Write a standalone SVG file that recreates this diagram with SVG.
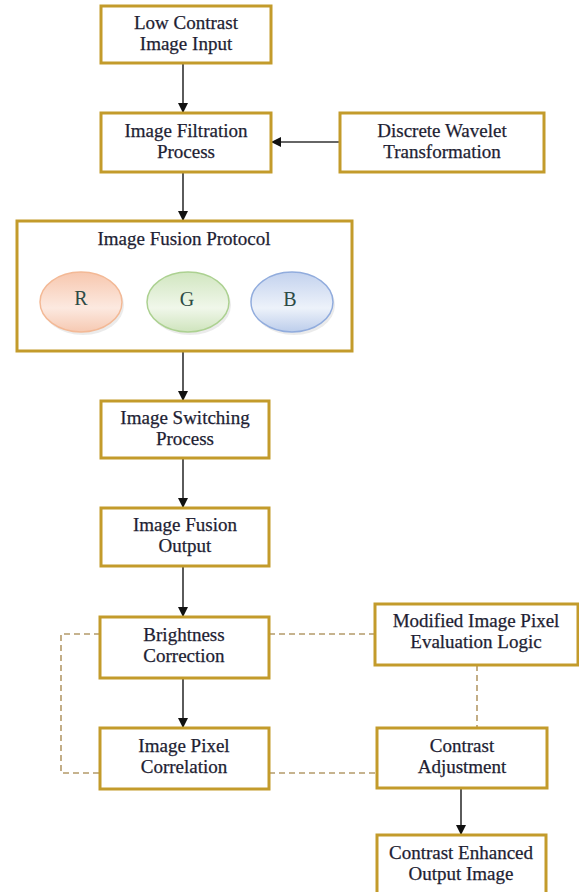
<svg xmlns="http://www.w3.org/2000/svg" width="579" height="892" viewBox="0 0 579 892">
<style>
.box{fill:#fff;stroke:#C39B2B;stroke-width:3}
.t{font-family:"Liberation Serif",serif;font-size:19px;fill:#1e1e33;text-anchor:middle;stroke:#1e1e33;stroke-width:0.25}
.c{stroke:#333;stroke-width:1.6;fill:none}
.d{stroke:#B49A6A;stroke-width:1.6;fill:none;stroke-dasharray:6,4}
.l{font-family:"Liberation Serif",serif;font-size:20px;fill:#2d4b45;text-anchor:middle}
</style>
<defs>
<marker id="ah" markerWidth="10" markerHeight="10" refX="9" refY="5" orient="auto" markerUnits="userSpaceOnUse"><path d="M0,0 L10,5 L0,10 z" fill="#111"/></marker>
<linearGradient id="gr" x1="0" y1="0" x2="0" y2="1"><stop offset="0" stop-color="#F7C7AE"/><stop offset="0.6" stop-color="#FCE9E0"/><stop offset="1" stop-color="#F6C9B2"/></linearGradient>
<linearGradient id="gg" x1="0" y1="0" x2="0" y2="1"><stop offset="0" stop-color="#D1E6C0"/><stop offset="0.6" stop-color="#F0F7EA"/><stop offset="1" stop-color="#CFE4BD"/></linearGradient>
<linearGradient id="gb" x1="0" y1="0" x2="0" y2="1"><stop offset="0" stop-color="#C3D2EE"/><stop offset="0.6" stop-color="#EDF2FA"/><stop offset="1" stop-color="#BCCDEB"/></linearGradient>
</defs>
<g id="connectors">
<line class="c" x1="183" y1="63" x2="183" y2="112" marker-end="url(#ah)"/>
<line class="c" x1="340" y1="142" x2="272" y2="142" marker-end="url(#ah)"/>
<line class="c" x1="183" y1="172" x2="183" y2="220" marker-end="url(#ah)"/>
<line class="c" x1="183" y1="351" x2="183" y2="400" marker-end="url(#ah)"/>
<line class="c" x1="183" y1="458" x2="183" y2="507" marker-end="url(#ah)"/>
<line class="c" x1="183" y1="566" x2="183" y2="616" marker-end="url(#ah)"/>
<line class="c" x1="183" y1="678" x2="183" y2="727" marker-end="url(#ah)"/>
<line class="c" x1="461" y1="788" x2="461" y2="834" marker-end="url(#ah)"/>
<path class="d" d="M100,634 H61 V773 H100"/>
<line class="d" x1="269" y1="634" x2="375" y2="634"/>
<line class="d" x1="269" y1="773" x2="377" y2="773"/>
<line class="d" x1="477" y1="665" x2="477" y2="728"/>
</g>
<g id="n1"><rect class="box" x="101" y="6" width="170" height="57"/><text class="t" x="186" y="29">Low Contrast</text><text class="t" x="186" y="50">Image Input</text></g>
<g id="n2"><rect class="box" x="101" y="113" width="170" height="59"/><text class="t" x="186" y="137">Image Filtration</text><text class="t" x="186" y="158">Process</text></g>
<g id="n3"><rect class="box" x="340" y="113" width="204" height="59"/><text class="t" x="442" y="137">Discrete Wavelet</text><text class="t" x="442" y="158">Transformation</text></g>
<g id="n4"><rect class="box" x="17" y="221" width="335" height="130"/><text class="t" x="184" y="245">Image Fusion Protocol</text>
<ellipse cx="83" cy="305" rx="41" ry="30" fill="#ddd" opacity="0.6"/>
<ellipse cx="81" cy="302" rx="41" ry="30" fill="url(#gr)" stroke="#F3B996" stroke-width="1.5"/><text class="l" x="81" y="305">R</text>
<ellipse cx="190" cy="305" rx="41" ry="30" fill="#ddd" opacity="0.6"/>
<ellipse cx="188" cy="302" rx="41" ry="30" fill="url(#gg)" stroke="#ACD191" stroke-width="1.5"/><text class="l" x="187" y="306">G</text>
<ellipse cx="294" cy="305" rx="41" ry="30" fill="#ddd" opacity="0.6"/>
<ellipse cx="292" cy="302" rx="41" ry="30" fill="url(#gb)" stroke="#91ACDD" stroke-width="1.5"/><text class="l" x="290" y="306">B</text>
</g>
<g id="n5"><rect class="box" x="101" y="401" width="168" height="57"/><text class="t" x="185" y="424">Image Switching</text><text class="t" x="185" y="445">Process</text></g>
<g id="n6"><rect class="box" x="101" y="508" width="168" height="58"/><text class="t" x="185" y="531">Image Fusion</text><text class="t" x="185" y="552">Output</text></g>
<g id="n7"><rect class="box" x="100" y="617" width="169" height="61"/><text class="t" x="184" y="641">Brightness</text><text class="t" x="184" y="662">Correction</text></g>
<g id="n8"><rect class="box" x="375" y="604" width="203" height="61"/><text class="t" x="476" y="627">Modified Image Pixel</text><text class="t" x="476" y="648">Evaluation Logic</text></g>
<g id="n9"><rect class="box" x="100" y="728" width="169" height="61"/><text class="t" x="184" y="752">Image Pixel</text><text class="t" x="184" y="773">Correlation</text></g>
<g id="n10"><rect class="box" x="377" y="728" width="170" height="60"/><text class="t" x="462" y="752">Contrast</text><text class="t" x="462" y="773">Adjustment</text></g>
<g id="n11"><rect class="box" x="377" y="835" width="169" height="60"/><text class="t" x="461" y="859">Contrast Enhanced</text><text class="t" x="461" y="880">Output Image</text></g>
</svg>
